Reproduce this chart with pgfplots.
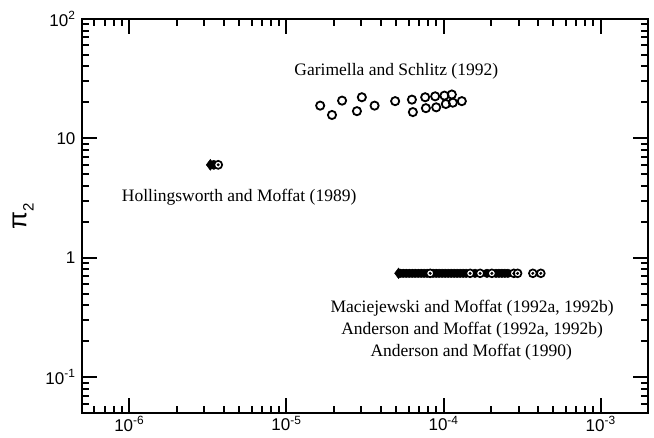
\documentclass[border=0pt]{standalone}
\usepackage{pgfplots}
\pgfplotsset{compat=1.18}
\usepackage{fontspec}
\setmainfont{Liberation Serif}
\newfontfamily\ticksans{Liberation Sans}

% Garimella and Schlitz (1992)
\pgfplotstableread{
x y
1.64e-5 18.8
1.95e-5 15.7
2.26e-5 20.7
2.81e-5 16.9
3.02e-5 22.1
3.64e-5 18.8
4.92e-5 20.5
6.29e-5 21.1
6.38e-5 16.6
7.64e-5 22.1
7.72e-5 17.9
8.84e-5 22.5
8.98e-5 18.2
1.013e-4 22.8
1.034e-4 19.4
1.129e-4 23.3
1.146e-4 19.9
1.307e-4 20.5
}\garimella

% Maciejewski / Anderson and Moffat, solid markers
\pgfplotstableread{
x y
5.31e-5 0.74
5.54e-5 0.74
5.79e-5 0.74
6.05e-5 0.74
6.32e-5 0.74
6.60e-5 0.74
6.90e-5 0.74
7.21e-5 0.74
7.53e-5 0.74
7.87e-5 0.74
8.59e-5 0.74
8.98e-5 0.74
9.38e-5 0.74
9.80e-5 0.74
1.023e-4 0.74
1.069e-4 0.74
1.117e-4 0.74
1.167e-4 0.74
1.220e-4 0.74
1.274e-4 0.74
1.331e-4 0.74
1.391e-4 0.74
1.586e-4 0.74
1.890e-4 0.74
2.156e-4 0.74
2.252e-4 0.74
2.353e-4 0.74
2.458e-4 0.74
2.568e-4 0.74
}\andersonfilled

% open markers with a centre dot
\pgfplotstableread{
x y
8.22e-5 0.74
1.476e-4 0.74
1.709e-4 0.74
2.03e-4 0.74
2.80e-4 0.74
2.96e-4 0.74
3.70e-4 0.74
4.16e-4 0.74
}\andersonopen

\begin{document}
\begin{tikzpicture}
\begin{axis}[
  scale only axis, width=566pt, height=394pt,
  xmode=log, ymode=log,
  xmin=5e-7, xmax=2e-3, ymin=0.05, ymax=100,
  xtick={1e-6,1e-5,1e-4,1e-3},
  xticklabels={10\textsuperscript{-6},10\textsuperscript{-5},10\textsuperscript{-4},10\textsuperscript{-3}},
  ytick={0.1,1,10,100},
  yticklabels={10\textsuperscript{-1},1,10,10\textsuperscript{2}},
  minor xtick={5e-7,6e-7,7e-7,8e-7,9e-7,
    2e-6,3e-6,4e-6,5e-6,6e-6,7e-6,8e-6,9e-6,
    2e-5,3e-5,4e-5,5e-5,6e-5,7e-5,8e-5,9e-5,
    2e-4,3e-4,4e-4,5e-4,6e-4,7e-4,8e-4,9e-4},
  minor ytick={0.06,0.07,0.08,0.09,
    0.2,0.3,0.4,0.5,0.6,0.7,0.8,0.9,
    2,3,4,5,6,7,8,9,
    20,30,40,50,60,70,80,90},
  tick align=inside,
  major tick length=15pt,
  minor tick length=7pt,
  tick style={line width=2pt, black},
  axis line style={line width=2.2pt},
  /pgf/number format/assume math mode=true,
  tick label style={font=\ticksans\fontsize{17}{19}\selectfont},
  yticklabel style={xshift=-3pt},
  ylabel={\ticksans\fontsize{26}{28}\selectfont π\raisebox{-0.28em}{\fontsize{15}{17}\selectfont 2}},
  ylabel style={at={(axis description cs:-0.104,0.5)}, anchor=center},
  clip=false,
]
% Garimella and Schlitz
\addplot[only marks, mark=o, mark size=4.1pt, mark options={line width=1.8pt, black}] table {\garimella};

% Hollingsworth and Moffat
\addplot[only marks, mark=diamond*, mark size=5.5pt, mark options={fill=black, draw=black}] coordinates {(3.28e-6,6.0)};
\addplot[only marks, mark=*, mark size=4.6pt, mark options={fill=black, draw=black}] coordinates {(3.45e-6,6.0)};
\addplot[only marks, mark=*, mark size=4.0pt, mark options={fill=white, draw=black, line width=1.7pt}] coordinates {(3.68e-6,6.0)};
\addplot[only marks, mark=*, mark size=1.3pt, mark options={fill=black, draw=black}] coordinates {(3.68e-6,6.0)};

% Maciejewski and Moffat; Anderson and Moffat
\addplot[only marks, mark=diamond*, mark size=5.3pt, mark options={fill=black, draw=black}] coordinates {(5.17e-5,0.74)};
\addplot[only marks, mark=*, mark size=4.3pt, mark options={fill=black, draw=black}] table {\andersonfilled};
\addplot[only marks, mark=*, mark size=3.9pt, mark options={fill=white, draw=black, line width=1.7pt}] table {\andersonopen};
\addplot[only marks, mark=*, mark size=1.3pt, mark options={fill=black, draw=black}] table {\andersonopen};

\begin{scope}[font=\fontsize{17.5}{21}\selectfont]
\node at (axis cs:5e-5,36.7) {Garimella and Schlitz (1992)};
\node at (axis cs:5e-6,3.23) {Hollingsworth and Moffat (1989)};
\node at (axis cs:1.52e-4,0.38) {Maciejewski and Moffat (1992a, 1992b)};
\node at (axis cs:1.52e-4,0.248) {Anderson and Moffat (1992a, 1992b)};
\node at (axis cs:1.50e-4,0.1626) {Anderson and Moffat (1990)};
\end{scope}
\end{axis}
\pgfresetboundingbox
\path[use as bounding box] (-82pt,-25pt) rectangle (572pt,413pt);
\end{tikzpicture}
\end{document}
